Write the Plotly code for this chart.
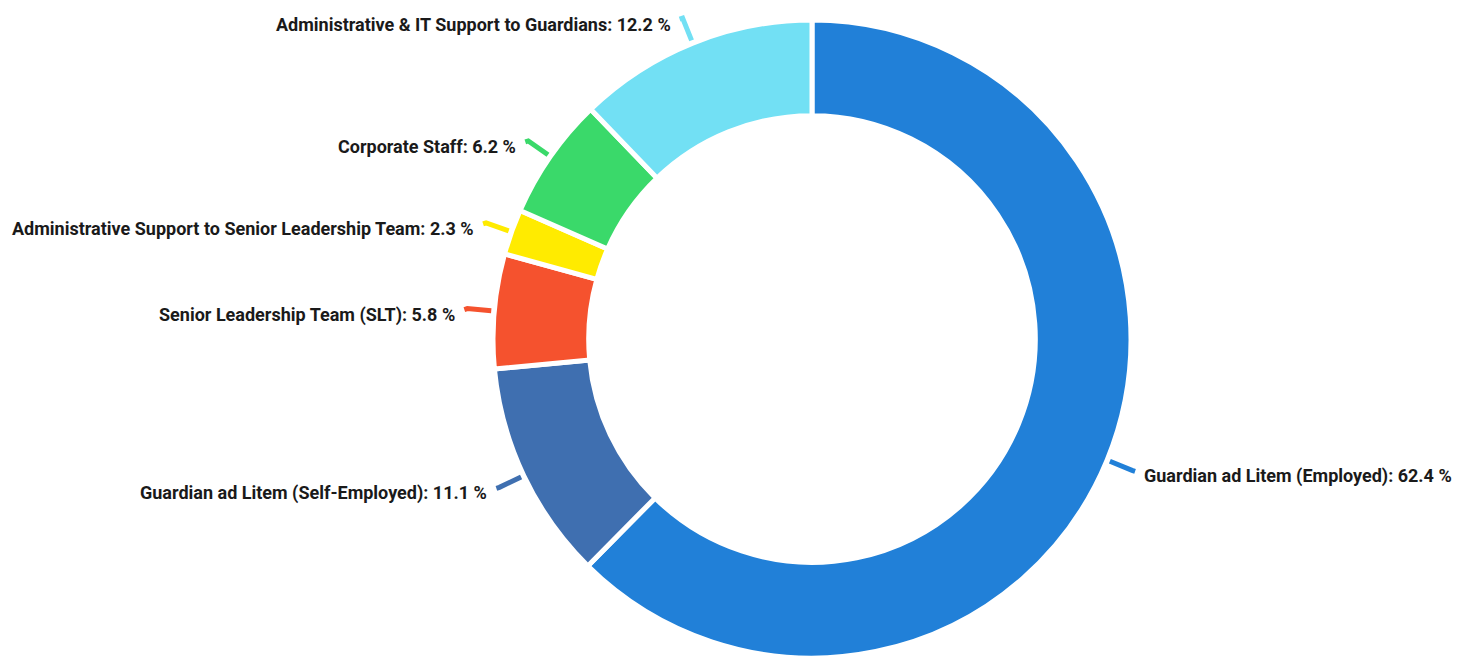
import math
import plotly.graph_objects as go

labels = [
    "Guardian ad Litem (Employed)",
    "Guardian ad Litem (Self-Employed)",
    "Senior Leadership Team (SLT)",
    "Administrative Support to Senior Leadership Team",
    "Corporate Staff",
    "Administrative & IT Support to Guardians",
]
values = [62.4, 11.1, 5.8, 2.3, 6.2, 12.2]
colors = ["#2180d8", "#3f6fb0", "#f5522e", "#ffeb00", "#3ad96a", "#72e0f4"]

W, H = 1474, 658
CX, CY, R = 812, 339, 319
HOLE = 0.70

fig = go.Figure(go.Pie(
    labels=labels, values=values, sort=False, direction="clockwise", rotation=0,
    hole=HOLE, textinfo="none", hoverinfo="label+percent",
    marker=dict(colors=colors, line=dict(color="white", width=5)),
    domain=dict(x=[(CX - R) / W, (CX + R) / W], y=[(H - CY - R) / H, (H - CY + R) / H]),
    showlegend=False,
))

def to_paper(px, py):
    return px / W, 1 - py / H

shapes, annots = [], []
total = sum(values)
start = 0.0
for lab, v, c in zip(labels, values, colors):
    span = v / total * 360
    mid = math.radians(start + span / 2)
    start += span
    s, co = math.sin(mid), math.cos(mid)
    x1, y1 = CX + (R + 3) * s, CY - (R + 3) * co
    x2, y2 = CX + (R + 27) * s, CY - (R + 27) * co
    side = 1 if s > 0 else -1
    x3, y3 = x2 + side * 3, y2 + 1
    p1, p2, p3 = to_paper(x1, y1), to_paper(x2, y2), to_paper(x3, y3)
    shapes.append(dict(
        type="path", xref="paper", yref="paper",
        path=f"M {p1[0]},{p1[1]} L {p2[0]},{p2[1]} L {p3[0]},{p3[1]}",
        line=dict(color=c, width=5),
    ))
    tx, ty = to_paper(x3 + side * 7, y2 + 6)
    annots.append(dict(
        x=tx, y=ty, xref="paper", yref="paper", showarrow=False,
        xanchor="left" if side > 0 else "right", yanchor="middle",
        text=f"<b>{lab}: {v:.1f} %</b>",
        font=dict(family="Roboto", size=18, color="#1a1a1a"),
    ))

fig.update_layout(
    width=W, height=H, margin=dict(l=0, r=0, t=0, b=0),
    paper_bgcolor="white", plot_bgcolor="white",
    shapes=shapes, annotations=annots,
)
fig.write_html("out.html")
